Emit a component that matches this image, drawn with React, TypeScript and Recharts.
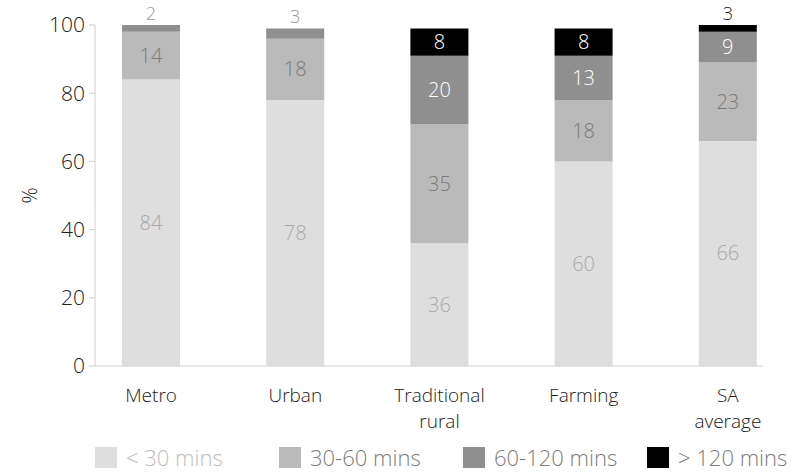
import {
  BarChart,
  Bar,
  XAxis,
  YAxis,
  Legend,
  LabelList,
} from 'recharts';

const categories = ['Metro', 'Urban', 'Traditional rural', 'Farming', 'SA average'];
const under30 = [84, 78, 36, 60, 66];
const from30to60 = [14, 18, 35, 18, 23];
const from60to120 = [2, 3, 20, 13, 9];
const over120 = [0, 0, 8, 8, 3];
const yTicks = [0, 20, 40, 60, 80, 100];

const series = [
  { key: 'under30', name: '< 30 mins', fill: '#dedede', label: '#a9a9a9', above: '#a9a9a9', legend: '#bdbdbd' },
  { key: 'from30to60', name: '30-60 mins', fill: '#bababa', label: '#7a7a7a', above: '#7a7a7a', legend: '#7d7d7d' },
  { key: 'from60to120', name: '60-120 mins', fill: '#8f8f8f', label: '#ffffff', above: '#999999', legend: '#7d7d7d' },
  { key: 'over120', name: '> 120 mins', fill: '#000000', label: '#ffffff', above: '#222222', legend: '#7d7d7d' },
];

const data = categories.map((name, i) => ({
  name,
  under30: under30[i],
  from30to60: from30to60[i],
  from60to120: from60to120[i],
  over120: over120[i],
}));

const FONT = '"Open Sans", sans-serif';
const WEIGHT = 300;

// value label: centred in the segment, or just above the bar when the segment is too thin
function makeLabel(color: string, aboveColor: string) {
  return (props: any) => {
    const { x, y, width, height, value } = props;
    if (!value) return null;
    const small = Math.abs(height) < 16;
    return (
      <text
        x={x + width / 2}
        y={small ? Math.max(y - 5, 20) : y + height / 2 + 7}
        textAnchor="middle"
        fill={small ? aboveColor : color}
        fontSize={small ? 18 : 20}
        fontWeight={WEIGHT}
        fontFamily={FONT}
      >
        {value}
      </text>
    );
  };
}

function CategoryTick(props: any) {
  const { x, y, payload } = props;
  const lines = String(payload.value).split(' ');
  return (
    <g>
      {lines.map((line, i) => (
        <text
          key={i}
          x={x}
          y={y + 28 + i * 26}
          textAnchor="middle"
          fill="#222"
          fontSize={19}
          fontWeight={WEIGHT}
          fontFamily={FONT}
        >
          {line}
        </text>
      ))}
    </g>
  );
}

function LegendRow() {
  return (
    <div style={{ position: 'relative', width: 807, height: 30 }}>
      {series.map((s, i) => (
        <div
          key={s.key}
          style={{
            position: 'absolute',
            left: 95 + i * 184,
            top: 0,
            height: 30,
            display: 'flex',
            alignItems: 'center',
            fontFamily: FONT,
            fontWeight: WEIGHT,
            fontSize: 22,
            color: s.legend,
            whiteSpace: 'nowrap',
          }}
        >
          <span style={{ display: 'inline-block', width: 22, height: 21, background: s.fill, marginRight: 9 }} />
          {s.name}
        </div>
      ))}
    </div>
  );
}

export default function App() {
  return (
    <div style={{ position: 'absolute', left: 0, top: 0, background: '#fff' }}>
      <BarChart
        width={807}
        height={472}
        data={data}
        margin={{ top: 25, right: 44, bottom: 10, left: 20 }}
        barSize={58}
      >
        <XAxis
          dataKey="name"
          interval={0}
          padding={{ left: -16, right: -37 }}
          axisLine={{ stroke: '#d0d0d0' }}
          tickLine={false}
          tick={<CategoryTick />}
          height={66}
        />
        <YAxis
          domain={[0, 100]}
          ticks={yTicks}
          allowDataOverflow
          width={75}
          axisLine={{ stroke: '#d0d0d0' }}
          tickLine={{ stroke: '#d0d0d0' }}
          tickSize={6}
          tickMargin={4}
          tick={{ fill: '#222', fontSize: 21, fontWeight: WEIGHT, fontFamily: FONT }}
          label={{
            value: '%',
            angle: -90,
            position: 'insideLeft',
            offset: 10,
            style: { fill: '#222', fontSize: 20, fontWeight: WEIGHT, fontFamily: FONT, textAnchor: 'middle' },
          }}
        />
        <Legend
          content={<LegendRow />}
          wrapperStyle={{ left: 0, top: 442, width: 807, height: 30 }}
        />
        {series.map((s) => (
          <Bar key={s.key} dataKey={s.key} name={s.name} stackId="a" fill={s.fill} isAnimationActive={false}>
            <LabelList dataKey={s.key} content={makeLabel(s.label, s.above)} />
          </Bar>
        ))}
      </BarChart>
    </div>
  );
}
